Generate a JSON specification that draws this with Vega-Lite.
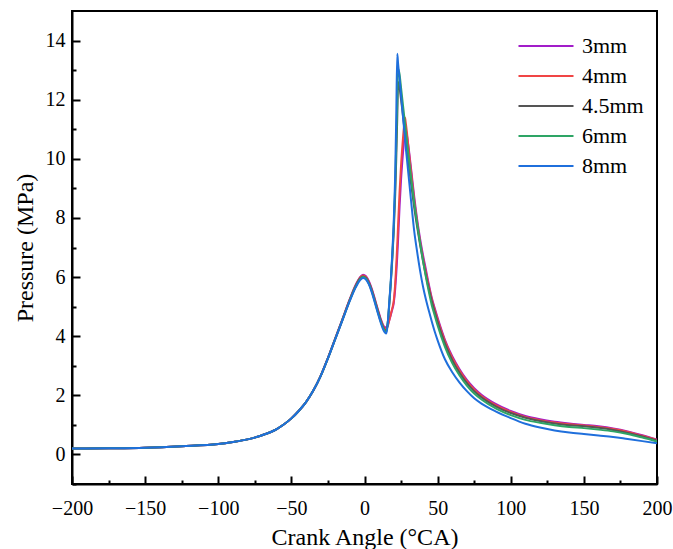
{
  "$schema": "https://vega.github.io/schema/vega-lite/v6.json",
  "width": 585,
  "height": 473,
  "autosize": {"type": "none"},
  "padding": {"left": 72, "top": 11, "right": 16, "bottom": 65},
  "background": "white",
  "config": {
    "font": "Liberation Serif",
    "view": {"stroke": "black", "strokeWidth": 2},
    "axis": {"grid": false, "domainColor": "black", "domainWidth": 2, "tickColor": "black", "labelColor": "black", "titleColor": "black", "titleFontWeight": "normal", "labelFont": "Liberation Serif", "titleFont": "Liberation Serif"},
    "legend": {"labelFont": "Liberation Serif"}
  },
  "data": {"values": [
    {"x": -200, "s3": 0.2, "s4": 0.2, "s45": 0.2, "s6": 0.2, "s8": 0.2},
    {"x": -175, "s3": 0.21, "s4": 0.21, "s45": 0.21, "s6": 0.21, "s8": 0.21},
    {"x": -150, "s3": 0.23, "s4": 0.23, "s45": 0.23, "s6": 0.23, "s8": 0.23},
    {"x": -125, "s3": 0.28, "s4": 0.28, "s45": 0.28, "s6": 0.28, "s8": 0.28},
    {"x": -100, "s3": 0.35, "s4": 0.35, "s45": 0.35, "s6": 0.35, "s8": 0.35},
    {"x": -90, "s3": 0.42, "s4": 0.42, "s45": 0.42, "s6": 0.42, "s8": 0.42},
    {"x": -80, "s3": 0.51, "s4": 0.51, "s45": 0.51, "s6": 0.51, "s8": 0.51},
    {"x": -70, "s3": 0.65, "s4": 0.65, "s45": 0.65, "s6": 0.65, "s8": 0.65},
    {"x": -60, "s3": 0.86, "s4": 0.86, "s45": 0.86, "s6": 0.86, "s8": 0.86},
    {"x": -55, "s3": 1.02, "s4": 1.02, "s45": 1.02, "s6": 1.02, "s8": 1.02},
    {"x": -50, "s3": 1.22, "s4": 1.22, "s45": 1.22, "s6": 1.22, "s8": 1.22},
    {"x": -45, "s3": 1.47, "s4": 1.47, "s45": 1.47, "s6": 1.47, "s8": 1.47},
    {"x": -40, "s3": 1.77, "s4": 1.77, "s45": 1.77, "s6": 1.77, "s8": 1.77},
    {"x": -35, "s3": 2.16, "s4": 2.16, "s45": 2.16, "s6": 2.16, "s8": 2.16},
    {"x": -30, "s3": 2.66, "s4": 2.66, "s45": 2.65, "s6": 2.65, "s8": 2.65},
    {"x": -25, "s3": 3.27, "s4": 3.26, "s45": 3.26, "s6": 3.25, "s8": 3.25},
    {"x": -20, "s3": 3.93, "s4": 3.92, "s45": 3.91, "s6": 3.91, "s8": 3.9},
    {"x": -15, "s3": 4.59, "s4": 4.58, "s45": 4.57, "s6": 4.56, "s8": 4.55},
    {"x": -10, "s3": 5.26, "s4": 5.25, "s45": 5.23, "s6": 5.22, "s8": 5.2},
    {"x": -6, "s3": 5.74, "s4": 5.72, "s45": 5.7, "s6": 5.68, "s8": 5.65},
    {"x": -3, "s3": 6.0, "s4": 5.98, "s45": 5.95, "s6": 5.93, "s8": 5.9},
    {"x": -1, "s3": 6.08, "s4": 6.05, "s45": 6.02, "s6": 6.0, "s8": 5.97},
    {"x": 1, "s3": 6.03, "s4": 6.0, "s45": 5.97, "s6": 5.95, "s8": 5.92},
    {"x": 3, "s3": 5.86, "s4": 5.83, "s45": 5.8, "s6": 5.78, "s8": 5.75},
    {"x": 5, "s3": 5.6, "s4": 5.57, "s45": 5.54, "s6": 5.52, "s8": 5.48},
    {"x": 7, "s3": 5.27, "s4": 5.24, "s45": 5.21, "s6": 5.19, "s8": 5.15},
    {"x": 9, "s3": 4.93, "s4": 4.9, "s45": 4.87, "s6": 4.84, "s8": 4.8},
    {"x": 11, "s3": 4.6, "s4": 4.57, "s45": 4.54, "s6": 4.51, "s8": 4.47},
    {"x": 13, "s3": 4.35, "s4": 4.32, "s45": 4.28, "s6": 4.25, "s8": 4.2},
    {"x": 14, "s3": 4.3, "s4": 4.25, "s45": 4.2, "s6": 4.17, "s8": 4.12},
    {"x": 15, "s3": 4.3, "s4": 4.25, "s45": 4.2, "s6": 4.15, "s8": 4.09},
    {"x": 16, "s3": 4.4, "s4": 4.35, "s45": 4.5, "s6": 4.5, "s8": 4.5},
    {"x": 17, "s3": 4.55, "s4": 4.55, "s45": 5.1, "s6": 5.15, "s8": 5.2},
    {"x": 18, "s3": 4.72, "s4": 4.75, "s45": 5.8, "s6": 5.85, "s8": 5.9},
    {"x": 19, "s3": 4.9, "s4": 4.95, "s45": 6.6, "s6": 6.7, "s8": 6.8},
    {"x": 20, "s3": 5.12, "s4": 5.2, "s45": 7.55, "s6": 7.7, "s8": 7.9},
    {"x": 21, "s3": 5.6, "s4": 5.8, "s45": 8.8, "s6": 9.1, "s8": 9.5},
    {"x": 21.7, "s3": 6.1, "s4": 6.4, "s45": 10.0, "s6": 10.5, "s8": 11.4},
    {"x": 22.4, "s3": 6.7, "s4": 7.1, "s45": 11.4, "s6": 12.0, "s8": 13.55},
    {"x": 23, "s3": 7.3, "s4": 7.8, "s45": 12.6, "s6": 13.05, "s8": 13.2},
    {"x": 24, "s3": 8.4, "s4": 8.9, "s45": 12.4, "s6": 12.85, "s8": 12.7},
    {"x": 25, "s3": 9.3, "s4": 9.8, "s45": 12.0, "s6": 12.4, "s8": 12.15},
    {"x": 26, "s3": 10.0, "s4": 10.5, "s45": 11.6, "s6": 11.95, "s8": 11.6},
    {"x": 27, "s3": 10.6, "s4": 11.1, "s45": 11.15, "s6": 11.5, "s8": 11.05},
    {"x": 27.7, "s3": 10.9, "s4": 11.4, "s45": 10.85, "s6": 11.2, "s8": 10.7},
    {"x": 28, "s3": 11.0, "s4": 11.3, "s45": 10.7, "s6": 11.05, "s8": 10.5},
    {"x": 29, "s3": 10.8, "s4": 10.9, "s45": 10.3, "s6": 10.6, "s8": 10.0},
    {"x": 30, "s3": 10.45, "s4": 10.4, "s45": 9.9, "s6": 10.15, "s8": 9.5},
    {"x": 32, "s3": 9.6, "s4": 9.5, "s45": 9.1, "s6": 9.3, "s8": 8.5},
    {"x": 34, "s3": 8.72, "s4": 8.6, "s45": 8.35, "s6": 8.5, "s8": 7.55},
    {"x": 36, "s3": 7.95, "s4": 7.85, "s45": 7.7, "s6": 7.8, "s8": 6.85},
    {"x": 38, "s3": 7.3, "s4": 7.2, "s45": 7.1, "s6": 7.15, "s8": 6.22},
    {"x": 40, "s3": 6.75, "s4": 6.65, "s45": 6.55, "s6": 6.55, "s8": 5.68},
    {"x": 42, "s3": 6.25, "s4": 6.15, "s45": 6.05, "s6": 6.0, "s8": 5.24},
    {"x": 44, "s3": 5.75, "s4": 5.68, "s45": 5.6, "s6": 5.5, "s8": 4.86},
    {"x": 46, "s3": 5.3, "s4": 5.25, "s45": 5.18, "s6": 5.05, "s8": 4.5},
    {"x": 48, "s3": 4.95, "s4": 4.9, "s45": 4.82, "s6": 4.7, "s8": 4.16},
    {"x": 50, "s3": 4.62, "s4": 4.56, "s45": 4.48, "s6": 4.36, "s8": 3.86},
    {"x": 55, "s3": 3.88, "s4": 3.83, "s45": 3.75, "s6": 3.64, "s8": 3.22},
    {"x": 60, "s3": 3.32, "s4": 3.27, "s45": 3.19, "s6": 3.09, "s8": 2.78},
    {"x": 65, "s3": 2.88, "s4": 2.84, "s45": 2.76, "s6": 2.67, "s8": 2.43},
    {"x": 70, "s3": 2.52, "s4": 2.48, "s45": 2.41, "s6": 2.33, "s8": 2.14},
    {"x": 75, "s3": 2.24, "s4": 2.2, "s45": 2.14, "s6": 2.06, "s8": 1.9},
    {"x": 80, "s3": 2.02, "s4": 1.98, "s45": 1.93, "s6": 1.86, "s8": 1.72},
    {"x": 90, "s3": 1.7, "s4": 1.66, "s45": 1.62, "s6": 1.55, "s8": 1.45},
    {"x": 100, "s3": 1.47, "s4": 1.44, "s45": 1.4, "s6": 1.33, "s8": 1.23},
    {"x": 110, "s3": 1.3, "s4": 1.27, "s45": 1.24, "s6": 1.17, "s8": 1.04},
    {"x": 120, "s3": 1.19, "s4": 1.16, "s45": 1.13, "s6": 1.07, "s8": 0.91},
    {"x": 130, "s3": 1.11, "s4": 1.08, "s45": 1.05, "s6": 0.99, "s8": 0.81},
    {"x": 140, "s3": 1.05, "s4": 1.02, "s45": 0.99, "s6": 0.93, "s8": 0.74},
    {"x": 150, "s3": 1.0, "s4": 0.98, "s45": 0.95, "s6": 0.89, "s8": 0.69},
    {"x": 160, "s3": 0.95, "s4": 0.93, "s45": 0.9, "s6": 0.84, "s8": 0.64},
    {"x": 170, "s3": 0.88, "s4": 0.86, "s45": 0.83, "s6": 0.78, "s8": 0.59},
    {"x": 180, "s3": 0.78, "s4": 0.76, "s45": 0.73, "s6": 0.69, "s8": 0.52},
    {"x": 190, "s3": 0.65, "s4": 0.63, "s45": 0.61, "s6": 0.57, "s8": 0.45},
    {"x": 200, "s3": 0.5, "s4": 0.49, "s45": 0.47, "s6": 0.44, "s8": 0.38}
  ]},
  "transform": [{"fold": ["s3", "s4", "s45", "s6", "s8"], "as": ["series", "pressure"]}],
  "mark": {"type": "line", "strokeWidth": 2, "interpolate": "monotone", "clip": true},
  "encoding": {
    "x": {"field": "x", "type": "quantitative", "scale": {"domain": [-200, 200], "nice": false},
      "axis": {"orient": "bottom", "title": "Crank Angle (°CA)",
        "values": [-200, -175, -150, -125, -100, -75, -50, -25, 0, 25, 50, 75, 100, 125, 150, 175, 200],
        "labelExpr": "datum.value % 50 === 0 ? datum.label : ''",
        "tickSize": {"condition": {"test": "datum.value % 50 === 0", "value": -8}, "value": -4},
        "tickWidth": 2, "labelFontSize": 20, "titleFontSize": 24, "labelPadding": 22, "titlePadding": 3, "labelFlush": false, "labelOverlap": false}},
    "y": {"field": "pressure", "type": "quantitative", "scale": {"domain": [-1, 15], "nice": false, "zero": false},
      "axis": {"orient": "left", "title": "Pressure (MPa)",
        "values": [-1, 0, 1, 2, 3, 4, 5, 6, 7, 8, 9, 10, 11, 12, 13, 14],
        "labelExpr": "datum.value % 2 === 0 ? datum.label : ''",
        "tickSize": {"condition": {"test": "datum.value % 2 === 0", "value": -8}, "value": -4},
        "tickWidth": 2, "labelFontSize": 20, "titleFontSize": 24, "labelPadding": 15, "titlePadding": 8, "labelOverlap": false}},
    "color": {"field": "series", "type": "nominal",
      "scale": {"domain": ["s3", "s4", "s45", "s6", "s8"], "range": ["#a21dc9", "#f04545", "#555555", "#2ea565", "#1f6fdc"]},
      "legend": {"orient": "none", "legendX": 462, "legendY": 23, "title": null, "symbolType": "M-2.5,0H2.5", "symbolSize": 484, "symbolStrokeWidth": 2, "labelFontSize": 22, "labelColor": "black", "labelOffset": 24, "rowPadding": 7,
        "labelExpr": "{'s3':'3mm','s4':'4mm','s45':'4.5mm','s6':'6mm','s8':'8mm'}[datum.label]"}}
  }
}
